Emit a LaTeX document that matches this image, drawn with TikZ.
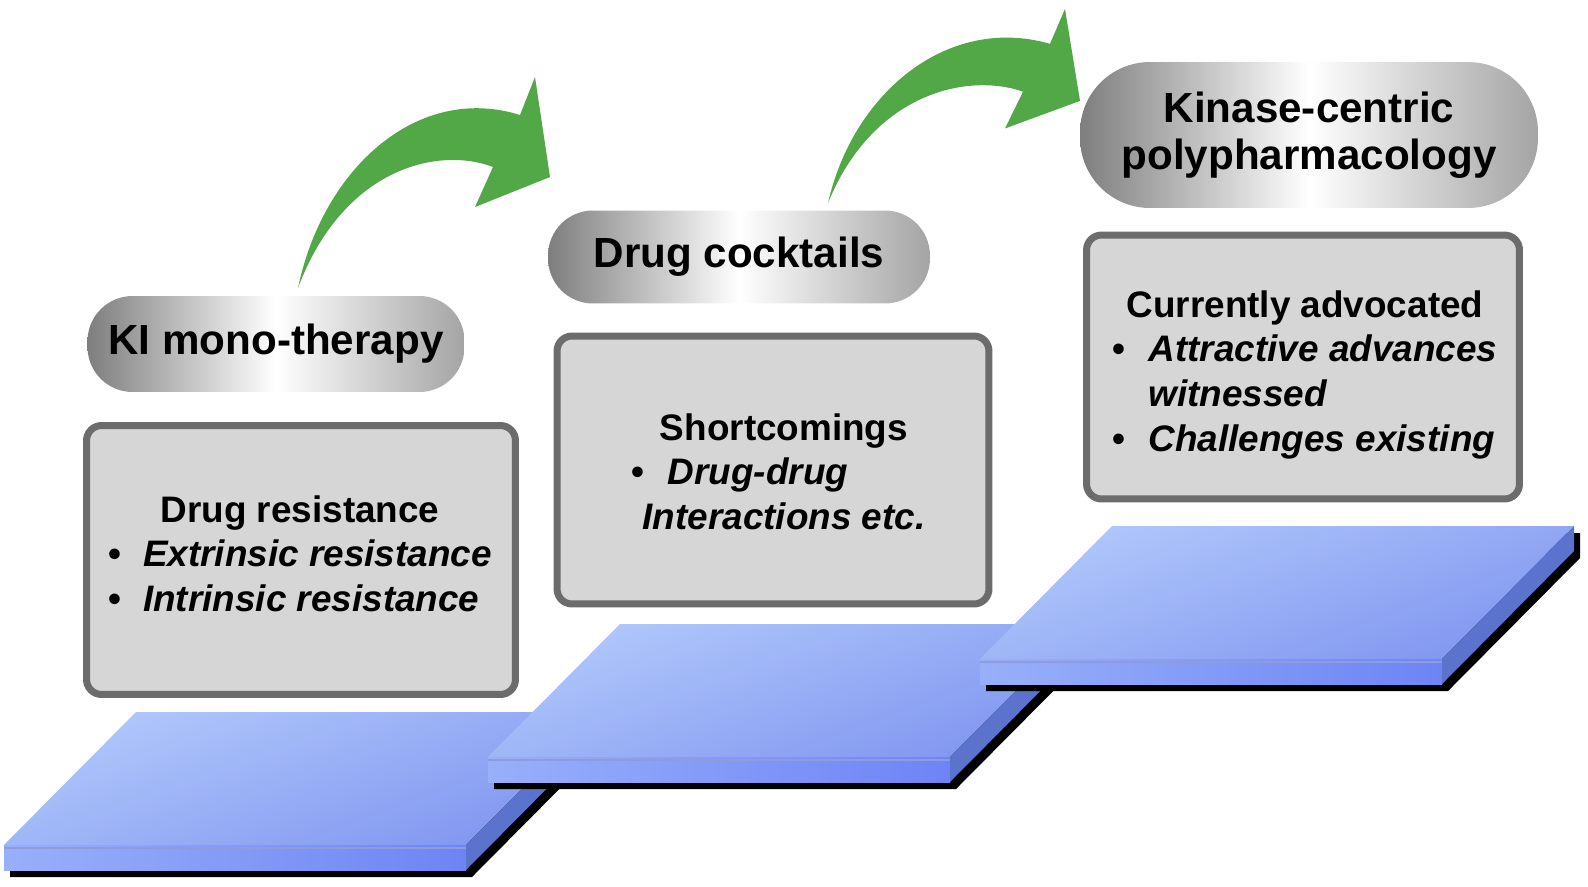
\documentclass[tikz,border=0pt]{standalone}
\usepackage{fontspec}
\setmainfont{Liberation Sans}
\usetikzlibrary{positioning}
\definecolor{kiGreen}{HTML}{52A847}
\definecolor{kiTopA}{HTML}{B0C8FB}
\definecolor{kiTopB}{HTML}{8196F0}
\definecolor{kiFrontA}{HTML}{98B0F9}
\definecolor{kiFrontB}{HTML}{6E84F4}
\definecolor{kiSide}{HTML}{5C73CD}
\definecolor{kiBoxFill}{HTML}{D6D6D6}
\definecolor{kiBoxEdge}{HTML}{6C6C6C}
\definecolor{kiPillDark}{HTML}{7E7E7E}
\definecolor{kiPillLight}{HTML}{A4A4A4}

\begin{document}
\begin{tikzpicture}[x=0.02cm, y=-0.02cm,
          card/.style={draw=kiBoxEdge, fill=kiBoxFill, line width=4pt, rounded corners=0.3cm},
          pill/.style={rounded corners=0.9cm, left color=kiPillDark, right color=kiPillLight,
                       middle color=white, align=center,
                       font=\fontsize{24}{26.8}\selectfont\bfseries},
          lst/.style={inner sep=0pt, anchor=base, font=\fontsize{21}{25.6}\selectfont\bfseries},
          curl/.style={fill=kiGreen}]
        \useasboundingbox (0,0) rectangle (1588,886);
        % steps
        \foreach \px/\py in {4/845, 488/757, 980/659}{
          \fill[black, shift={(\px+6,\py+7)}] (0,0) -- (132,-133) -- (594,-133) -- (594,-108) -- (462,25) -- (0,25) -- cycle;
          \shade[top color=kiTopA, bottom color=kiTopB, shading angle=20, shift={(\px,\py)}]
            (0,0) -- (132,-133) -- (594,-133) -- (462,0) -- cycle;
          \shade[left color=kiFrontA, right color=kiFrontB, shift={(\px,\py)}] (0,0) rectangle (462,25);
          \draw[kiSide!70, line width=0.6pt, shift={(\px,\py)}] (0,3) -- (462,3);
          \fill[kiSide, shift={(\px,\py)}] (462,0) -- (594,-133) -- (594,-108) -- (462,25) -- cycle;
        }
        % boxes
        \node[card, minimum width=8.58cm, minimum height=5.38cm] (c1) at (301,560) {};
        \node[card, minimum width=8.64cm, minimum height=5.36cm] (c2) at (773,470) {};
        \node[card, minimum width=8.66cm, minimum height=5.28cm] (c3) at (1303,367) {};
        \node[lst] (t1) at (300,522) {\begin{tabular}[t]{@{}l@{\hspace{0.44cm}}l@{}}
            \multicolumn{2}{c}{Drug resistance}\\
            \textbullet & \textit{Extrinsic resistance}\\
            \textbullet & \textit{Intrinsic resistance}
          \end{tabular}};
        \node[lst] (t2) at (784,440) {\begin{tabular}[t]{@{}l@{\hspace{0.46cm}}l@{}}
            \multicolumn{2}{c}{Shortcomings}\\
            \textbullet & \textit{Drug-drug}\\
            \multicolumn{2}{l}{\textit{Interactions etc.}}
          \end{tabular}};
        \node[lst] (t3) at (1305,317) {\begin{tabular}[t]{@{}l@{\hspace{0.46cm}}l@{}}
            \multicolumn{2}{c}{Currently advocated}\\
            \textbullet & \textit{Attractive advances}\\
            & \textit{witnessed}\\
            \textbullet & \textit{Challenges existing}
          \end{tabular}};
        % titles
        \node[pill, minimum width=7.54cm, minimum height=1.92cm] (p1) at (276,344) {KI mono-therapy};
        \node[pill, minimum width=7.64cm, minimum height=1.86cm] (p2) at (739,257) {Drug cocktails};
        \node[pill, rounded corners=1.4cm, minimum width=9.16cm, minimum height=2.92cm] (p3) at (1309,135)
          {Kinase-centric\\polypharmacology};
        % arrows
        \foreach \ax/\ay/\s in {298/288/1, 828/203/0.92}{
          \fill[curl, shift={(\ax,\ay)}, yscale=\s] (0,0) .. controls (25,-120) and (120,-205) .. (222,-173)
            -- (237,-211) -- (252,-111) -- (177,-81) -- (195,-121)
            .. controls (140,-142) and (45,-120) .. (0,0) -- cycle;
        }
      \end{tikzpicture}
\end{document}
